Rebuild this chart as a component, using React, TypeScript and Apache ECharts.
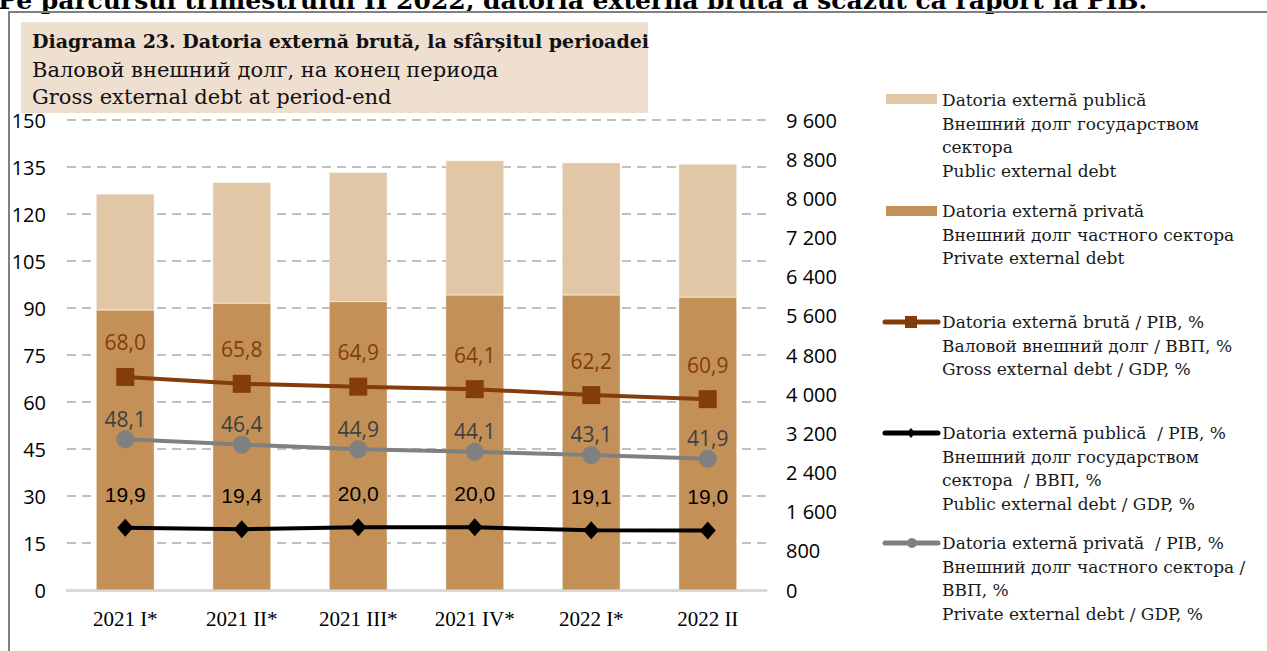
import React, { useEffect, useRef } from "react";
import * as echarts from "echarts";

const categories = ["2021 I*", "2021 II*", "2021 III*", "2021 IV*", "2022 I*", "2022 II"];
const privateDebt = [5720, 5855, 5890, 6025, 6025, 5980];
const publicDebt = [2370, 2470, 2640, 2745, 2700, 2715];
const grossGdp = [68.0, 65.8, 64.9, 64.1, 62.2, 60.9];
const publicGdp = [19.9, 19.4, 20.0, 20.0, 19.1, 19.0];
const privateGdp = [48.1, 46.4, 44.9, 44.1, 43.1, 41.9];
const leftTicks = { min: 0, max: 150, interval: 15 };
const rightTicks = { min: 0, max: 9600, interval: 800 };

const SANS = "'Open Sans', 'Noto Sans', sans-serif";
const SERIF = "'DejaVu Serif', serif";

const fmtComma = (v: number) => v.toFixed(1).replace(".", ",");
const fmtThousands = (v: number) => String(v).replace(/\B(?=(\d{3})+(?!\d))/g, " ");

export default function App() {
  const ref = useRef<HTMLDivElement>(null);
  useEffect(() => {
    if (!ref.current) return;
    const chart = echarts.init(ref.current, undefined, { renderer: "svg" });
    const legendText = (x: number, yFirst: number, lines: string[]) => ({
      type: "text",
      left: x,
      top: yFirst - 11.75,
      style: {
        text: lines.join("\n"),
        font: `17px ${SERIF}`,
        fill: "#1a1a1a",
        lineHeight: 23.5,
        verticalAlign: "top",
      },
    });
    chart.setOption({
      animation: false,
      backgroundColor: "#ffffff",
      grid: { left: 67, right: 501, top: 120, bottom: 61, containLabel: false },
      xAxis: {
        type: "category",
        data: categories,
        axisLine: { show: true, lineStyle: { color: "#d9d9d9", width: 3 } },
        axisTick: { show: false },
        axisLabel: { margin: 18, color: "#000", fontFamily: "'Liberation Serif', serif", fontSize: 21 },
      },
      yAxis: [
        {
          type: "value",
          ...leftTicks,
          axisLine: { show: false },
          axisTick: { show: false },
          axisLabel: { margin: 21, color: "#000", fontFamily: SANS, fontSize: 20 },
          splitLine: { show: true, lineStyle: { color: "#c0c0c0", width: 2, type: [9, 6] } },
        },
        {
          type: "value",
          ...rightTicks,
          position: "right",
          axisLine: { show: false },
          axisTick: { show: false },
          splitLine: { show: false },
          axisLabel: {
            margin: 20,
            color: "#000",
            fontFamily: SANS,
            fontSize: 20,
            formatter: (v: number) => fmtThousands(v),
          },
        },
      ],
      series: [
        {
          name: "Datoria externă privată",
          type: "bar",
          stack: "debt",
          yAxisIndex: 1,
          barWidth: 58,
          data: privateDebt,
          itemStyle: { color: "#c39157", borderColor: "#ead9c4", borderWidth: 0.5 },
          z: 1,
        },
        {
          name: "Datoria externă publică",
          type: "bar",
          stack: "debt",
          yAxisIndex: 1,
          barWidth: 58,
          data: publicDebt,
          itemStyle: { color: "#e1c7a6", borderColor: "#f3e8dc", borderWidth: 0.5 },
          z: 1,
        },
        {
          name: "Datoria externă brută / PIB, %",
          type: "line",
          yAxisIndex: 0,
          data: grossGdp,
          symbol: "rect",
          symbolSize: 18,
          lineStyle: { color: "#843c0c", width: 4 },
          itemStyle: { color: "#843c0c" },
          label: {
            show: true,
            position: "top",
            distance: 15,
            color: "#843c0c",
            fontFamily: SANS,
            fontSize: 21,
            formatter: (p: any) => fmtComma(p.value),
          },
          z: 5,
        },
        {
          name: "Datoria externă privată / PIB, %",
          type: "line",
          yAxisIndex: 0,
          data: privateGdp,
          symbol: "circle",
          symbolSize: 18,
          lineStyle: { color: "#808080", width: 4 },
          itemStyle: { color: "#808080" },
          label: {
            show: true,
            position: "top",
            distance: 1,
            color: "#404040",
            fontFamily: SANS,
            fontSize: 21,
            formatter: (p: any) => fmtComma(p.value),
          },
          z: 4,
        },
        {
          name: "Datoria externă publică / PIB, %",
          type: "line",
          yAxisIndex: 0,
          data: publicGdp,
          symbol: "diamond",
          symbolSize: [16, 18],
          lineStyle: { color: "#000000", width: 4 },
          itemStyle: { color: "#000000" },
          label: {
            show: true,
            position: "top",
            distance: 14,
            color: "#000000",
            fontFamily: "'Liberation Sans', sans-serif",
            fontSize: 21,
            formatter: (p: any) => fmtComma(p.value),
          },
          z: 4,
        },
      ],
      graphic: [
        {
          type: "text",
          left: -2,
          top: -12,
          style: {
            text: "Pe parcursul trimestrului II 2022, datoria externă brută a scăzut ca raport la PIB.",
            font: `bold 25px ${SERIF}`,
            fill: "#000",
          },
          z: 0,
        },
        { type: "rect", shape: { x: 8, y: 11, width: 1259, height: 2 }, style: { fill: "#808080" }, z: 1 },
        { type: "rect", shape: { x: 8, y: 11, width: 2, height: 640 }, style: { fill: "#808080" }, z: 1 },
        { type: "rect", shape: { x: 21, y: 22, width: 627, height: 91 }, style: { fill: "#efdfd0" }, z: -1 },
        {
          type: "text",
          left: 32,
          top: 31,
          style: {
            text: "Diagrama 23. Datoria externă brută, la sfârșitul perioadei",
            font: `bold 19px ${SERIF}`,
            fill: "#111",
          },
        },
        {
          type: "text",
          left: 32,
          top: 56,
          style: {
            text: "Валовой внешний долг, на конец периода\nGross external debt at period-end",
            font: `21px ${SERIF}`,
            fill: "#111",
            lineHeight: 27,
          },
        },
        // legend: bars
        { type: "rect", shape: { x: 886, y: 94, width: 51, height: 10 }, style: { fill: "#e1c7a6" } },
        legendText(942, 100, ["Datoria externă publică", "Внешний долг государством", "сектора", "Public external debt"]),
        { type: "rect", shape: { x: 886, y: 206, width: 51, height: 10 }, style: { fill: "#c39157" } },
        legendText(942, 211, ["Datoria externă privată", "Внешний долг частного сектора", "Private external debt"]),
        // legend: gross line
        { type: "line", shape: { x1: 885, y1: 322, x2: 938, y2: 322 }, style: { stroke: "#843c0c", lineWidth: 5, lineCap: "round" } },
        { type: "rect", shape: { x: 905, y: 316, width: 12, height: 12 }, style: { fill: "#843c0c" } },
        legendText(942, 322, ["Datoria externă brută / PIB, %", "Валовой внешний долг / ВВП, %", "Gross external debt / GDP, %"]),
        // legend: public line
        { type: "line", shape: { x1: 885, y1: 433, x2: 938, y2: 433 }, style: { stroke: "#000000", lineWidth: 5, lineCap: "round" } },
        { type: "polygon", shape: { points: [[911, 428], [915, 433], [911, 438], [907, 433]] }, style: { fill: "#000" } },
        legendText(942, 433, ["Datoria externă publică  / PIB, %", "Внешний долг государством", "сектора  / ВВП, %", "Public external debt / GDP, %"]),
        // legend: private line
        { type: "line", shape: { x1: 885, y1: 543, x2: 938, y2: 543 }, style: { stroke: "#808080", lineWidth: 5, lineCap: "round" } },
        { type: "circle", shape: { cx: 912, cy: 543, r: 5 }, style: { fill: "#808080" } },
        legendText(942, 543, ["Datoria externă privată  / PIB, %", "Внешний долг частного сектора /", "ВВП, %", "Private external debt / GDP, %"]),
      ],
    });
    return () => chart.dispose();
  }, []);
  return (
    <div
      ref={ref}
      style={{ position: "absolute", left: 0, top: 0, width: 1267, height: 651 }}
    />
  );
}
